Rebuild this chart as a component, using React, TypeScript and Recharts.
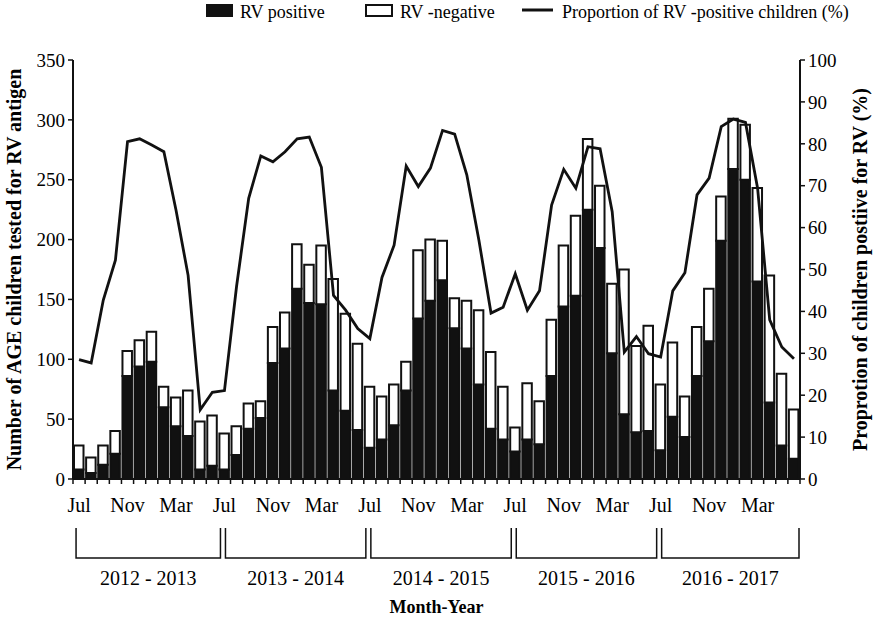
import { ComposedChart, Bar, Line, XAxis, YAxis } from 'recharts';

// Monthly rotavirus surveillance, Jul 2012 – Jun 2017
const MONTHS = ['Jul', 'Aug', 'Sep', 'Oct', 'Nov', 'Dec', 'Jan', 'Feb', 'Mar', 'Apr', 'May', 'Jun'];
const LABELLED_MONTHS = ['Jul', 'Nov', 'Mar'];
const SEASONS = ['2012 - 2013', '2013 - 2014', '2014 - 2015', '2015 - 2016', '2016 - 2017'];

const RV_POSITIVE = [
  8, 5, 12, 21, 86, 94, 98, 60, 44, 36, 8, 11,
  8, 20, 42, 51, 97, 109, 159, 147, 146, 74, 57, 41,
  26, 33, 45, 74, 134, 149, 166, 126, 109, 79, 42, 33,
  23, 33, 29, 86, 144, 153, 225, 193, 105, 54, 39, 40,
  24, 52, 35, 86, 115, 199, 259, 250, 165, 64, 28, 17,
];

const RV_NEGATIVE = [
  20, 13, 16, 19, 21, 22, 25, 17, 24, 38, 40, 42,
  30, 24, 21, 14, 30, 30, 37, 32, 49, 93, 81, 72,
  51, 36, 34, 24, 57, 51, 33, 25, 40, 62, 64, 44,
  20, 47, 36, 47, 51, 67, 59, 52, 58, 121, 72, 88,
  55, 62, 34, 41, 44, 37, 42, 46, 78, 106, 60, 41,
];

const RV_PROPORTION = [
  28.5, 27.7, 42.7, 52.2, 80.5, 81.2, 79.7, 78.1, 64.2, 48.6, 16.5, 20.7,
  21.1, 46, 67, 77.1, 75.7, 78.1, 81.2, 81.6, 74.4, 43.8, 40.3, 35.9,
  33.5, 48.1, 55.8, 74.7, 69.8, 74.2, 83.2, 82.3, 72.6, 57, 39.6, 41,
  49, 40.3, 44.9, 65.4, 73.9, 69.4, 79.3, 78.8, 63.8, 30.3, 34, 29.9,
  29.1, 44.9, 49.2, 67.8, 71.8, 84.1, 85.9, 85.1, 69.4, 38, 31.5, 28.7,
];

const LEFT_TICKS = [0, 50, 100, 150, 200, 250, 300, 350];
const RIGHT_TICKS = [0, 10, 20, 30, 40, 50, 60, 70, 80, 90, 100];

const rows = RV_POSITIVE.map((positive, i) => ({
  idx: i,
  month: MONTHS[i % 12],
  season: SEASONS[Math.floor(i / 12)],
  positive,
  negative: RV_NEGATIVE[i],
  proportion: RV_PROPORTION[i],
}));

const W = 873;
const H = 617;
const AXIS_W = 73;
const BAND = (W - 2 * AXIS_W) / rows.length;
const FONT = '"Liberation Serif", "Times New Roman", serif';
const INK = '#111';

function MonthTick(props: any) {
  const { x, y, payload } = props;
  const i = payload.value as number;
  const row = rows[i];
  const isLast = i === rows.length - 1;
  let bracket = null;
  if (i % 12 === 0) {
    // season bracket: from this July to just before next July
    const bl = i === 0 ? x - 3 : x + 1;
    const br = i + 12 >= rows.length ? x - BAND / 2 + 12 * BAND - 1 : x + 12 * BAND - 4;
    bracket = (
      <g>
        <path d={`M${bl},${y + 49} V${y + 79} H${br} V${y + 49}`} fill="none" stroke={INK} strokeWidth={1.5} />
        <text x={(bl + br) / 2} y={y + 106} textAnchor="middle" fontSize={20} fill="#000">
          {row.season}
        </text>
      </g>
    );
  }
  return (
    <g>
      <line x1={x - BAND / 2} x2={x - BAND / 2} y1={y} y2={y + 5} stroke={INK} strokeWidth={1.5} />
      {isLast && <line x1={x + BAND / 2} x2={x + BAND / 2} y1={y} y2={y + 5} stroke={INK} strokeWidth={1.5} />}
      {LABELLED_MONTHS.includes(row.month) && (
        <text x={x} y={y + 33} textAnchor="middle" fontSize={20} fill="#000">
          {row.month}
        </text>
      )}
      {bracket}
    </g>
  );
}

function TopLegend() {
  return (
    <svg width={W} height={30} style={{ position: 'absolute', left: 0, top: 0, fontFamily: FONT }}>
      <rect x={206} y={4} width={27} height={13} fill={INK} />
      <text x={240} y={18} fontSize={18} fill="#000">RV positive</text>
      <rect x={366} y={5} width={26} height={11} fill="#fff" stroke={INK} strokeWidth={2} />
      <text x={400} y={18} fontSize={18} fill="#000">RV -negative</text>
      <line x1={522} x2={553} y1={10} y2={10} stroke={INK} strokeWidth={3} />
      <text x={562} y={18} fontSize={18} fill="#000">Proportion of RV -positive children (%)</text>
    </svg>
  );
}

export default function App() {
  return (
    <div style={{ position: 'absolute', left: 0, top: 0, width: W, height: H, background: '#fff', fontFamily: FONT }}>
      <TopLegend />
      <ComposedChart
        width={W}
        height={H}
        data={rows}
        margin={{ top: 60, right: 0, bottom: 0, left: 0 }}
        barCategoryGap={0}
        style={{ fontFamily: FONT }}
      >
        <XAxis
          dataKey="idx"
          interval={0}
          height={138}
          tickLine={false}
          tickSize={0}
          tickMargin={0}
          axisLine={{ stroke: INK, strokeWidth: 2 }}
          tick={<MonthTick />}
          label={{ value: 'Month-Year', position: 'insideBottom', offset: 4, style: { fontSize: 18, fontWeight: 'bold', fill: '#000' } }}
        />
        <YAxis
          yAxisId="left"
          width={AXIS_W}
          domain={[0, 350]}
          ticks={LEFT_TICKS}
          interval={0}
          tickSize={5}
          tickMargin={3}
          axisLine={{ stroke: INK, strokeWidth: 2 }}
          tickLine={{ stroke: INK, strokeWidth: 1.5 }}
          tick={{ fill: '#000', fontSize: 19 }}
          label={{
            value: 'Number of AGE children tested for RV antigen',
            angle: -90,
            position: 'insideLeft',
            offset: 14,
            style: { textAnchor: 'middle', fontSize: 20, fontWeight: 'bold', fill: '#000' },
          }}
        />
        <YAxis
          yAxisId="right"
          orientation="right"
          width={AXIS_W}
          domain={[0, 100]}
          ticks={RIGHT_TICKS}
          interval={0}
          tickSize={5}
          tickMargin={3}
          axisLine={{ stroke: INK, strokeWidth: 2 }}
          tickLine={{ stroke: INK, strokeWidth: 1.5 }}
          tick={{ fill: '#000', fontSize: 19 }}
          label={{
            value: 'Proprotion of children postiive for RV (%)',
            angle: -90,
            position: 'insideRight',
            offset: 13,
            style: { textAnchor: 'middle', fontSize: 20, fontWeight: 'bold', fill: '#000' },
          }}
        />
        <Bar
          yAxisId="left"
          dataKey="positive"
          name="RV positive"
          stackId="rv"
          barSize={9.5}
          fill={INK}
          stroke={INK}
          strokeWidth={2}
          isAnimationActive={false}
        />
        <Bar
          yAxisId="left"
          dataKey="negative"
          name="RV -negative"
          stackId="rv"
          barSize={9.5}
          fill="#fff"
          stroke={INK}
          strokeWidth={2}
          isAnimationActive={false}
        />
        <Line
          yAxisId="right"
          dataKey="proportion"
          name="Proportion of RV -positive children (%)"
          type="linear"
          stroke={INK}
          strokeWidth={2.8}
          dot={false}
          isAnimationActive={false}
        />
      </ComposedChart>
    </div>
  );
}
